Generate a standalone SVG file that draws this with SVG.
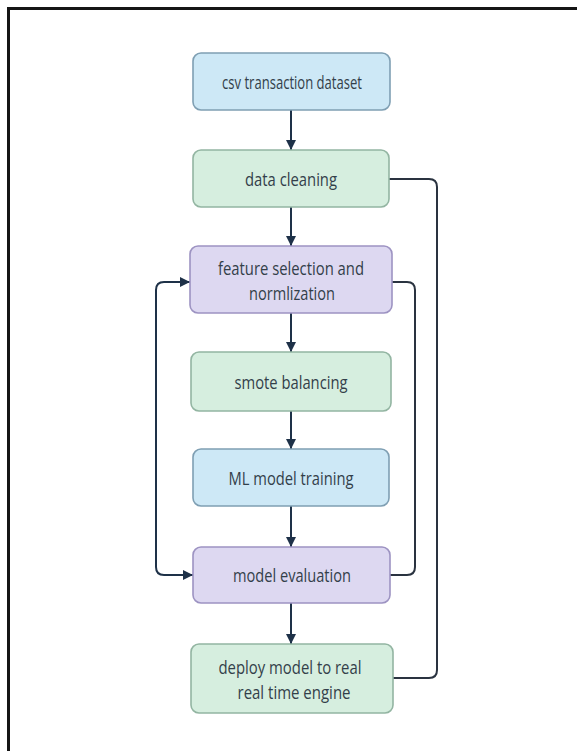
<svg xmlns="http://www.w3.org/2000/svg" width="577" height="751" viewBox="0 0 577 751">
<style>
.box{stroke-width:1.6}
.blue{fill:#cde8f6;stroke:#7f9fb3}
.green{fill:#d6eedf;stroke:#93b5a2}
.purple{fill:#ddd8f1;stroke:#9d93c2}
.t{font-family:"Open Sans","Liberation Sans",sans-serif;font-size:18.5px;fill:#333f4a;text-anchor:middle;dominant-baseline:central}
.c{fill:none;stroke:#1e3148;stroke-width:2}
.e{fill:none;stroke:#2a3340;stroke-width:2}
</style>
<defs>
<marker id="ah" viewBox="0 0 10 10" refX="10" refY="5" markerWidth="10" markerHeight="10" markerUnits="userSpaceOnUse" orient="auto-start-reverse">
<path d="M0,0 L10,5 L0,10 z" fill="#1e3148"/>
</marker>
</defs>
<rect width="577" height="751" fill="#ffffff"/>
<path d="M8.5,751 V8.5 H577" fill="none" stroke="#151515" stroke-width="3"/>
<g id="connectors">
<line class="c" x1="291" y1="110" x2="291" y2="150" marker-end="url(#ah)"/>
<line class="c" x1="291" y1="207" x2="291" y2="246" marker-end="url(#ah)"/>
<line class="c" x1="291" y1="313" x2="291" y2="352" marker-end="url(#ah)"/>
<line class="c" x1="291" y1="411" x2="291" y2="449" marker-end="url(#ah)"/>
<line class="c" x1="291" y1="506" x2="291" y2="547" marker-end="url(#ah)"/>
<line class="c" x1="291" y1="603" x2="291" y2="644" marker-end="url(#ah)"/>
<path class="c" d="M190,282 H164 Q156,282 156,290 V567 Q156,575 164,575 H193" marker-start="url(#ah)" marker-end="url(#ah)"/>
<path class="e" d="M392,282 H407 Q415,282 415,290 V567 Q415,575 407,575 H390"/>
<path class="e" d="M388,179 H429 Q437,179 437,187 V670 Q437,678 429,678 H393"/>
</g>
<g id="n1"><rect class="box blue" x="193" y="53" width="197" height="57" rx="8"/><text class="t" x="292" y="81" textLength="140" lengthAdjust="spacingAndGlyphs">csv transaction dataset</text></g>
<g id="n2"><rect class="box green" x="193" y="150" width="196" height="57" rx="8"/><text class="t" x="291" y="178" textLength="92" lengthAdjust="spacingAndGlyphs">data cleaning</text></g>
<g id="n3"><rect class="box purple" x="190" y="246" width="202" height="67" rx="8"/><text class="t" x="291" y="267" textLength="146" lengthAdjust="spacingAndGlyphs">feature selection and</text><text class="t" x="292" y="292" textLength="86" lengthAdjust="spacingAndGlyphs">normlization</text></g>
<g id="n4"><rect class="box green" x="191" y="352" width="200" height="59" rx="8"/><text class="t" x="291" y="381" textLength="113" lengthAdjust="spacingAndGlyphs">smote balancing</text></g>
<g id="n5"><rect class="box blue" x="193" y="449" width="196" height="57" rx="8"/><text class="t" x="291" y="477" textLength="125" lengthAdjust="spacingAndGlyphs">ML model training</text></g>
<g id="n6"><rect class="box purple" x="193" y="547" width="197" height="56" rx="8"/><text class="t" x="292" y="574" textLength="118" lengthAdjust="spacingAndGlyphs">model evaluation</text></g>
<g id="n7"><rect class="box green" x="191" y="644" width="202" height="69" rx="8"/><text class="t" x="290" y="666" textLength="143" lengthAdjust="spacingAndGlyphs">deploy model to real</text><text class="t" x="294" y="691" textLength="113" lengthAdjust="spacingAndGlyphs">real time engine</text></g>
</svg>
